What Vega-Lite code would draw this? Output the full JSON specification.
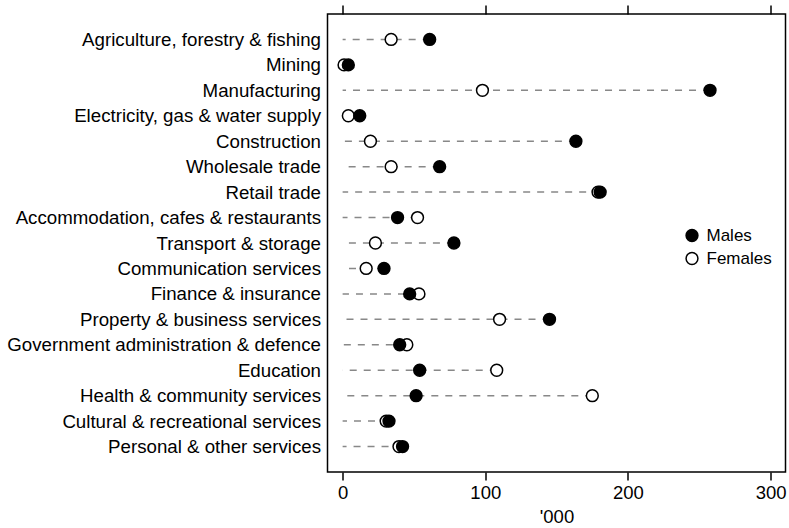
{
  "$schema": "https://vega.github.io/schema/vega-lite/v6.json",
  "width": 458,
  "height": 458,
  "autosize": "none",
  "padding": {"left": 327.5, "top": 14, "right": 3.5, "bottom": 56},
  "background": "white",
  "config": {
    "font": "Liberation Sans",
    "view": {"stroke": "black", "strokeWidth": 1.5},
    "axisY": {"title": null, "domain": false, "ticks": false, "grid": false, "labelFontSize": 18.7, "labelColor": "black", "labelPadding": 7, "labelFont": "Liberation Sans", "labelLimit": 0},
    "axisX": {"grid": false, "domain": false, "tickColor": "black", "tickWidth": 1.5, "tickSize": 8, "labelFontSize": 18.5, "labelColor": "black", "labelFont": "Liberation Sans", "titleFont": "Liberation Sans", "titleFontSize": 18.5, "titleFontWeight": "normal", "titleColor": "black"}
  },
  "data": {"values": [
    {"industry": "Agriculture, forestry & fishing", "sex": "Females", "value": 34},
    {"industry": "Mining", "sex": "Females", "value": 1},
    {"industry": "Manufacturing", "sex": "Females", "value": 98},
    {"industry": "Electricity, gas & water supply", "sex": "Females", "value": 4},
    {"industry": "Construction", "sex": "Females", "value": 19.5},
    {"industry": "Wholesale trade", "sex": "Females", "value": 34},
    {"industry": "Retail trade", "sex": "Females", "value": 179},
    {"industry": "Accommodation, cafes & restaurants", "sex": "Females", "value": 52.5},
    {"industry": "Transport & storage", "sex": "Females", "value": 23},
    {"industry": "Communication services", "sex": "Females", "value": 16.5},
    {"industry": "Finance & insurance", "sex": "Females", "value": 53.5},
    {"industry": "Property & business services", "sex": "Females", "value": 110},
    {"industry": "Government administration & defence", "sex": "Females", "value": 45},
    {"industry": "Education", "sex": "Females", "value": 108},
    {"industry": "Health & community services", "sex": "Females", "value": 175},
    {"industry": "Cultural & recreational services", "sex": "Females", "value": 30.5},
    {"industry": "Personal & other services", "sex": "Females", "value": 39.5},
    {"industry": "Agriculture, forestry & fishing", "sex": "Males", "value": 61},
    {"industry": "Mining", "sex": "Males", "value": 4},
    {"industry": "Manufacturing", "sex": "Males", "value": 257.5},
    {"industry": "Electricity, gas & water supply", "sex": "Males", "value": 12},
    {"industry": "Construction", "sex": "Males", "value": 163.5},
    {"industry": "Wholesale trade", "sex": "Males", "value": 68},
    {"industry": "Retail trade", "sex": "Males", "value": 180.5},
    {"industry": "Accommodation, cafes & restaurants", "sex": "Males", "value": 38.5},
    {"industry": "Transport & storage", "sex": "Males", "value": 78},
    {"industry": "Communication services", "sex": "Males", "value": 29},
    {"industry": "Finance & insurance", "sex": "Males", "value": 47},
    {"industry": "Property & business services", "sex": "Males", "value": 145},
    {"industry": "Government administration & defence", "sex": "Males", "value": 40},
    {"industry": "Education", "sex": "Males", "value": 54},
    {"industry": "Health & community services", "sex": "Males", "value": 51.5},
    {"industry": "Cultural & recreational services", "sex": "Males", "value": 32.5},
    {"industry": "Personal & other services", "sex": "Males", "value": 42}
  ]},
  "layer": [
    {
      "transform": [{"aggregate": [{"op": "max", "field": "value", "as": "maxv"}], "groupby": ["industry"]}],
      "mark": {"type": "rule", "color": "#888888", "strokeWidth": 1.5, "strokeDash": [7, 7]},
      "encoding": {
        "y": {"field": "industry", "type": "nominal", "sort": null, "scale": {"type": "point", "padding": 1}},
        "x": {"field": "maxv", "type": "quantitative", "scale": {"domain": [-10.6, 310.4], "nice": false, "zero": false}, "axis": {"orient": "top", "labels": false, "title": null, "values": [0, 100, 200, 300], "tickSize": 9}},
        "x2": {"datum": 0}
      }
    },
    {
      "mark": {"type": "point", "shape": "circle", "filled": true, "stroke": "black", "strokeWidth": 1.5, "size": 140, "opacity": 1},
      "encoding": {
        "y": {"field": "industry", "type": "nominal", "sort": null},
        "x": {"field": "value", "type": "quantitative", "axis": {"orient": "bottom", "values": [0, 100, 200, 300], "title": "'000", "labelPadding": 3, "titlePadding": 6}},
        "fill": {"field": "sex", "type": "nominal", "scale": {"domain": ["Males", "Females"], "range": ["black", "white"]},
          "legend": {"orient": "none", "legendX": 356, "legendY": 213, "title": null, "padding": 0, "symbolType": "circle", "symbolSize": 140, "symbolStrokeColor": "black", "symbolStrokeWidth": 1.5, "labelFontSize": 17, "labelColor": "black", "labelFont": "Liberation Sans", "rowPadding": 4, "labelOffset": 6}}
      }
    }
  ],
  "resolve": {"axis": {"x": "independent"}}
}
